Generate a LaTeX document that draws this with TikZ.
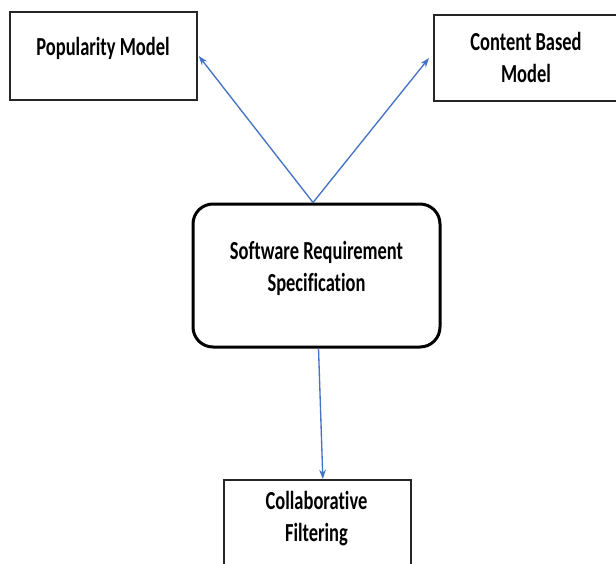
\documentclass[tikz,border=0pt]{standalone}
\usepackage{fontspec}
\setmainfont{Carlito}[FakeStretch=0.71,Ligatures=NoCommon]
\usetikzlibrary{arrows.meta}
\definecolor{arrblue}{HTML}{4472C4}
\tikzset{
  box/.style={draw=black!85, line width=1.5pt, inner sep=0pt},
  srsbox/.style={draw=black, line width=2.25pt, rounded corners=15pt, inner sep=0pt},
  lbl/.style={align=center, font=\fontsize{19.5}{24}\selectfont\bfseries, inner sep=0pt},
  arr/.style={draw=arrblue, line width=1pt, -{Stealth[length=7pt,width=5pt]}}
}
\begin{document}
\begin{tikzpicture}[x=0.75pt,y=-0.75pt]
\useasboundingbox (0,0) rectangle (616,563);
\fill[white] (0,0) rectangle (616,563);
\node[box, minimum width=140.25pt, minimum height=66pt] (pop) at (103.5,56) {};
\node[lbl] (poptxt) at (103,48) {Popularity Model};
\node[box, minimum width=141pt, minimum height=64.5pt, anchor=north west] (cb) at (433,14) {};
\node[lbl] (cbtxt) at (526,57) {Content Based\\Model};
\node[srsbox, minimum width=185.25pt, minimum height=107.25pt] (srs) at (316.5,275.5) {};
\node[lbl] (srstxt) at (316.5,268) {Software Requirement\\Specification};
\node[box, minimum width=140.25pt, minimum height=66pt, anchor=north west] (col) at (223,479) {};
\node[lbl] (coltxt) at (316.5,519) {Collaborative\\Filtering};
\draw[arr] ([xshift=-2.6pt]srs.north) -- ([xshift=0.6pt]pop.east);
\draw[arr] ([xshift=-2.6pt]srs.north) -- ([xshift=-3pt]cb.west);
\draw[arr] ([xshift=1.5pt]srs.south) -- ([xshift=4pt]col.north);
\end{tikzpicture}
\end{document}
